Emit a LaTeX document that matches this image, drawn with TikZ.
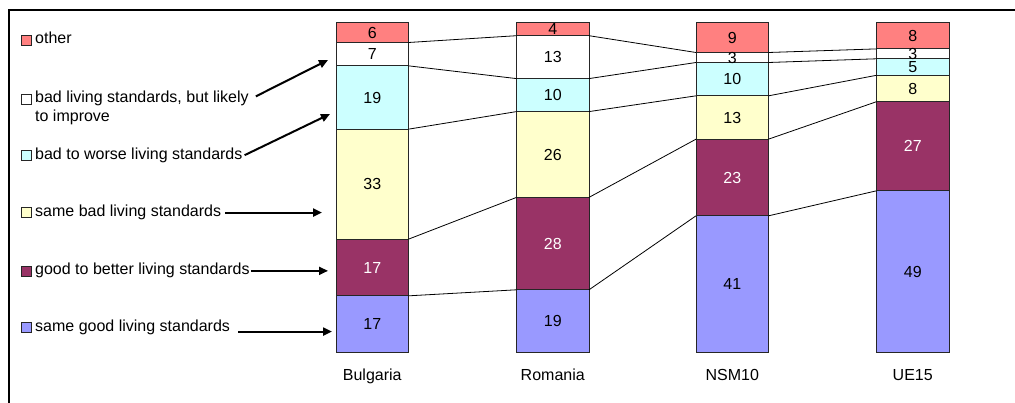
\documentclass[tikz,border=0pt]{standalone}
\usepackage{fontspec}
\setmainfont{Liberation Sans}
\usetikzlibrary{arrows.meta,positioning}

\definecolor{s1}{HTML}{FF8080}
\definecolor{s2}{HTML}{FFFFFF}
\definecolor{s3}{HTML}{CCFFFF}
\definecolor{s4}{HTML}{FFFFCC}
\definecolor{s5}{HTML}{993366}
\definecolor{s6}{HTML}{9999FF}
\colorlet{t1}{black}
\colorlet{t2}{black}
\colorlet{t3}{black}
\colorlet{t4}{black}
\colorlet{t5}{white}
\colorlet{t6}{black}

\newcommand{\chartfont}{\fontsize{16}{19}\selectfont}
% name / left edge / total / values from top to bottom
\newcommand{\bardata}{bul/336/99/{6,7,19,33,17,17},rom/516.5/100/{4,13,10,26,28,19},nsm/696/99/{9,3,10,13,23,41},ue/876.5/100/{8,3,5,8,27,49}}

\tikzset{
  seg/.style={draw=black!85, line width=0.9pt, minimum width=72.5pt, inner sep=0pt, outer sep=0pt, anchor=north west},
  val/.style={font=\chartfont, inner sep=0pt},
  serline/.style={black, line width=0.8pt},
  key/.style={draw=black!85, line width=0.8pt, minimum size=10pt, inner sep=0pt, anchor=south west},
  legtext/.style={font=\chartfont, inner sep=0pt, anchor=base west, align=left},
  cat/.style={font=\chartfont, inner sep=0pt, text height=11pt, text depth=3pt},
  callout/.style={line width=2pt, -{Triangle[length=9pt,width=8pt]}},
  frame/.style={line width=1.4pt}
}

\begin{document}
\begin{tikzpicture}[x=1pt,y=-1pt]
  \useasboundingbox (0,0) rectangle (1015,403);
  \draw[frame] (9,403) -- (9,10) -- (1015,10);

  % stacked bars
  \foreach \cname/\cx/\csum/\cvals in \bardata {
    \gdef\ytop{22.5}
    \foreach \v [count=\k] in \cvals {
      \pgfmathsetmacro\h{330*\v/\csum}
      \node[seg, fill=s\k, minimum height=\h pt] (\cname\k) at (\cx,\ytop) {};
      \pgfmathsetmacro\ynew{\ytop+\h}
      \global\let\ytop\ynew
    }
  }
  \foreach \a/\b in {bul/rom,rom/nsm,nsm/ue}
    \foreach \k in {1,...,5}
      \draw[serline] (\a\k.south east) -- (\b\k.south west);
  \foreach \cname/\cx/\csum/\cvals in \bardata
    \foreach \v [count=\k] in \cvals
      \node[val, text=t\k] at (\cname\k.center) {\v};

  % categories
  \foreach \cname/\ctext in {bul/Bulgaria,rom/Romania,nsm/NSM10,ue/UE15}
    \node[cat, below=16.5pt of \cname6] (l\cname) {\ctext};

  % legend (key bottom / last baseline)
  \foreach \k/\yk/\yb/\txt in {1/44/44/other,
      2/103/122/{bad living standards, but likely\\to improve},
      3/159.3/159.3/bad to worse living standards,
      4/216.7/216.7/same bad living standards,
      5/275/275/good to better living standards,
      6/331.7/331.7/same good living standards} {
    \node[key, fill=s\k] (key\k) at (21,\yk+1.6) {};
    \node[legtext] (txt\k) at (35,\yb) {\txt};
  }

  \coordinate (tip2) at (328,60);
  \coordinate (tip3) at (330,114);
  \coordinate (tip4) at (322,212);
  \coordinate (tip5) at (328,270);
  \coordinate (tip6) at (332,331);
  \draw[callout] ([xshift=7pt,yshift=12pt]txt2.east) -- (tip2);
  \draw[callout] ([xshift=2pt]txt3.east) -- (tip3);
  \draw[callout] ([xshift=4pt]txt4.east) -- (tip4 |- txt4.east);
  \draw[callout] ([xshift=1pt]txt5.east) -- (tip5 |- txt5.east);
  \draw[callout] ([xshift=8pt,yshift=-4pt]txt6.east) -- ([yshift=-4pt]tip6 |- txt6.east);
\end{tikzpicture}
\end{document}
